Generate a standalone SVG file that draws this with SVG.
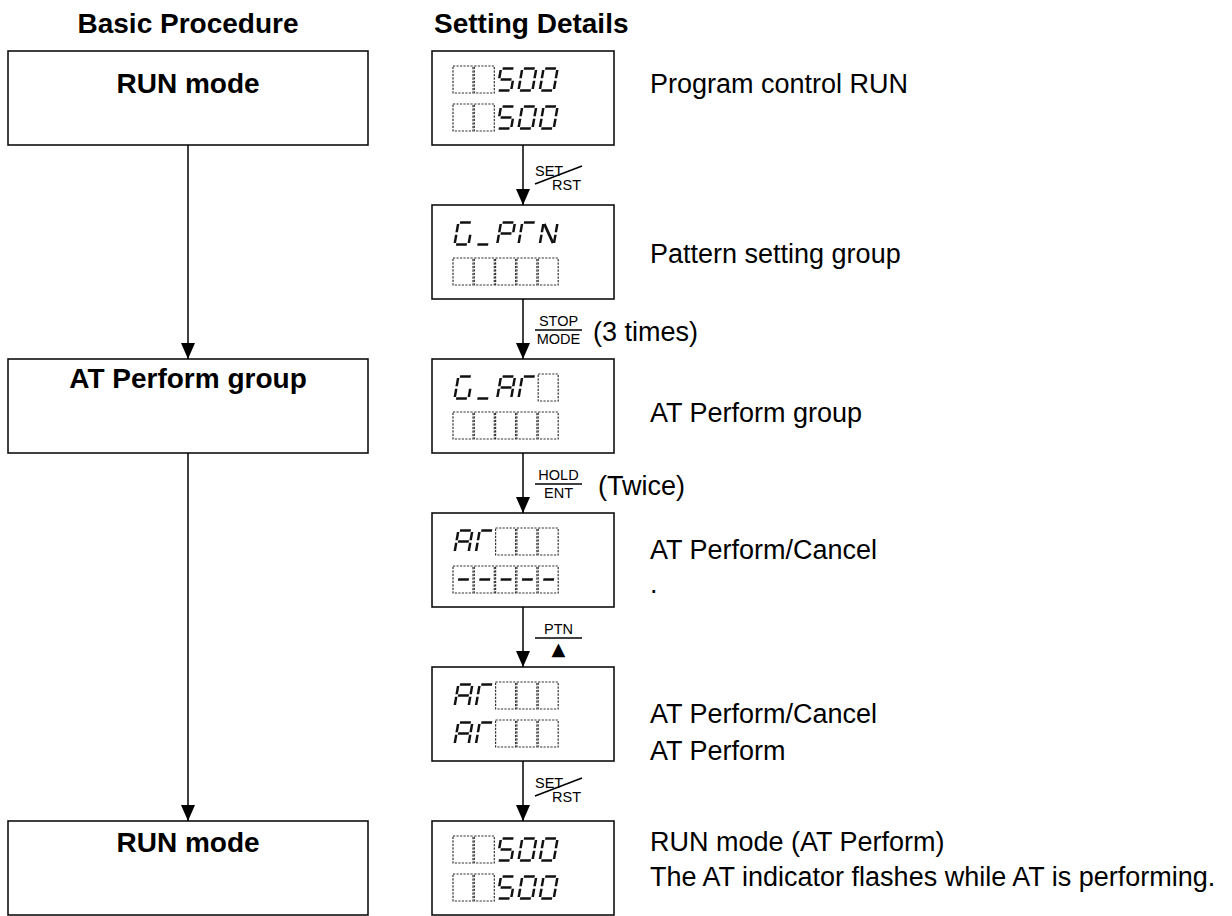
<svg xmlns="http://www.w3.org/2000/svg" xmlns:xlink="http://www.w3.org/1999/xlink" width="1232" height="916" viewBox="0 0 1232 916">
<style>
.box{fill:#fff;stroke:#000;stroke-width:1.5}
.hd{font-family:"Liberation Sans",Arial,sans-serif;font-weight:bold;font-size:28px;fill:#000}
.tx{font-family:"Liberation Sans",Arial,sans-serif;font-size:27px;fill:#000}
.key{font-family:"Liberation Sans",Arial,sans-serif;font-size:14.5px;fill:#000}
.conn{stroke:#000;stroke-width:1.5;fill:none}
.seg{stroke:#111;stroke-width:2.5}
.cell{fill:none;stroke:#333;stroke-width:1.2;stroke-dasharray:2.2 1.3}
</style>
<defs>
<marker id="ah" viewBox="0 0 16 14" refX="16" refY="7" markerWidth="16" markerHeight="14" markerUnits="userSpaceOnUse" orient="auto"><path d="M0,0 L16,7 L0,14 z" fill="#000"/></marker>
<rect id="cell" class="cell" x="0" y="0" width="20" height="27"/>
<line id="sa" class="seg" x1="1.6" y1="0" x2="12.4" y2="0"/>
<line id="sb" class="seg" x1="14" y1="1.6" x2="14" y2="9.8"/>
<line id="sc" class="seg" x1="14" y1="12.2" x2="14" y2="20.4"/>
<line id="sd" class="seg" x1="1.6" y1="22" x2="12.4" y2="22"/>
<line id="se" class="seg" x1="0" y1="12.2" x2="0" y2="20.4"/>
<line id="sf" class="seg" x1="0" y1="1.6" x2="0" y2="9.8"/>
<line id="sg" class="seg" x1="1.6" y1="11" x2="12.4" y2="11"/>
<g id="d5" transform="skewX(-10)"><use href="#sa"/><use href="#sf"/><use href="#sg"/><use href="#sc"/><use href="#sd"/></g>
<g id="d0" transform="skewX(-10)"><use href="#sa"/><use href="#sb"/><use href="#sc"/><use href="#sd"/><use href="#se"/><use href="#sf"/></g>
<g id="dG" transform="skewX(-10)"><use href="#sa"/><use href="#sf"/><use href="#se"/><use href="#sd"/><use href="#sc"/></g>
<g id="dU" transform="skewX(-10)"><use href="#sd"/></g>
<g id="dP" transform="skewX(-10)"><use href="#sa"/><use href="#sb"/><use href="#sf"/><use href="#sg"/><use href="#se"/></g>
<g id="dT" transform="skewX(-10)"><use href="#sa"/><use href="#sf"/><use href="#se"/></g>
<g id="dN" transform="skewX(-10)"><use href="#sf"/><use href="#se"/><use href="#sb"/><use href="#sc"/><line class="seg" x1="1" y1="1.5" x2="13" y2="20.5"/></g>
<g id="dA" transform="skewX(-10)"><use href="#sa"/><use href="#sb"/><use href="#sc"/><use href="#se"/><use href="#sf"/><use href="#sg"/></g>
<g id="dM" transform="skewX(-10)"><use href="#sg"/></g>
</defs>
<rect width="1232" height="916" fill="#fff"/>

<text class="hd" x="188" y="33" text-anchor="middle">Basic Procedure</text>
<text class="hd" x="434" y="33">Setting Details</text>

<g id="connectors">
<line class="conn" x1="188" y1="145" x2="188" y2="359" marker-end="url(#ah)"/>
<line class="conn" x1="188" y1="453" x2="188" y2="821" marker-end="url(#ah)"/>
<line class="conn" x1="523" y1="145" x2="523" y2="205" marker-end="url(#ah)"/>
<line class="conn" x1="523" y1="299" x2="523" y2="359" marker-end="url(#ah)"/>
<line class="conn" x1="523" y1="453" x2="523" y2="513" marker-end="url(#ah)"/>
<line class="conn" x1="523" y1="607" x2="523" y2="667" marker-end="url(#ah)"/>
<line class="conn" x1="523" y1="761" x2="523" y2="821" marker-end="url(#ah)"/>
<g id="key1">
<text class="key" x="535" y="176">SET</text>
<text class="key" x="552" y="190">RST</text>
<line class="conn" x1="535" y1="184" x2="582" y2="166" stroke-width="1.2"/>
</g>
<g id="key2">
<text class="key" x="558.5" y="326" text-anchor="middle">STOP</text>
<line class="conn" x1="535" y1="330" x2="582" y2="330" stroke-width="1.2"/>
<text class="key" x="558.5" y="344" text-anchor="middle">MODE</text>
<text class="tx" x="593" y="341">(3 times)</text>
</g>
<g id="key3">
<text class="key" x="558.5" y="480" text-anchor="middle">HOLD</text>
<line class="conn" x1="535" y1="484" x2="582" y2="484" stroke-width="1.2"/>
<text class="key" x="558.5" y="498" text-anchor="middle">ENT</text>
<text class="tx" x="598" y="495">(Twice)</text>
</g>
<g id="key4">
<text class="key" x="558.5" y="634" text-anchor="middle">PTN</text>
<line class="conn" x1="535" y1="638" x2="582" y2="638" stroke-width="1.2"/>
<text x="558.5" y="655" text-anchor="middle" font-family="DejaVu Sans, sans-serif" font-size="18">▲</text>
</g>
<g id="key5">
<text class="key" x="535" y="788">SET</text>
<text class="key" x="552" y="802">RST</text>
<line class="conn" x1="535" y1="796" x2="582" y2="778" stroke-width="1.2"/>
</g>
</g>

<g id="step-run1">
<rect class="box" x="8" y="51" width="360" height="94"/>
<text class="hd" x="188" y="93" text-anchor="middle">RUN mode</text>
</g>
<g id="step-at">
<rect class="box" x="8" y="359" width="360" height="94"/>
<text class="hd" x="188" y="388" text-anchor="middle">AT Perform group</text>
</g>
<g id="step-run2">
<rect class="box" x="8" y="821" width="360" height="94"/>
<text class="hd" x="188" y="852" text-anchor="middle">RUN mode</text>
</g>

<g id="disp1">
<rect class="box" x="432" y="51" width="182" height="94"/>
<use href="#cell" x="453" y="66"/><use href="#cell" x="474.3" y="66"/>
<use href="#d5" x="501" y="68.5"/><use href="#d0" x="522.3" y="68.5"/><use href="#d0" x="543.6" y="68.5"/>
<use href="#cell" x="453" y="104"/><use href="#cell" x="474.3" y="104"/>
<use href="#d5" x="501" y="106.5"/><use href="#d0" x="522.3" y="106.5"/><use href="#d0" x="543.6" y="106.5"/>
<text class="tx" x="650" y="93">Program control RUN</text>
</g>

<g id="disp2">
<rect class="box" x="432" y="205" width="182" height="94"/>
<use href="#dG" x="458.4" y="222.5"/><use href="#dU" x="479.7" y="222.5"/><use href="#dP" x="501" y="222.5"/><use href="#dT" x="522.3" y="222.5"/><use href="#dN" x="543.6" y="222.5"/>
<use href="#cell" x="453" y="258"/><use href="#cell" x="474.3" y="258"/><use href="#cell" x="495.6" y="258"/><use href="#cell" x="516.9" y="258"/><use href="#cell" x="538.2" y="258"/>
<text class="tx" x="650" y="263">Pattern setting group</text>
</g>

<g id="disp3">
<rect class="box" x="432" y="359" width="182" height="94"/>
<use href="#dG" x="458.4" y="376.5"/><use href="#dU" x="479.7" y="376.5"/><use href="#dA" x="501" y="376.5"/><use href="#dT" x="522.3" y="376.5"/>
<use href="#cell" x="538.2" y="374"/>
<use href="#cell" x="453" y="412"/><use href="#cell" x="474.3" y="412"/><use href="#cell" x="495.6" y="412"/><use href="#cell" x="516.9" y="412"/><use href="#cell" x="538.2" y="412"/>
<text class="tx" x="650" y="422">AT Perform group</text>
</g>

<g id="disp4">
<rect class="box" x="432" y="513" width="182" height="94"/>
<use href="#dA" x="458.4" y="530.5"/><use href="#dT" x="479.7" y="530.5"/>
<use href="#cell" x="495.6" y="528"/><use href="#cell" x="516.9" y="528"/><use href="#cell" x="538.2" y="528"/>
<use href="#cell" x="453" y="566"/><use href="#cell" x="474.3" y="566"/><use href="#cell" x="495.6" y="566"/><use href="#cell" x="516.9" y="566"/><use href="#cell" x="538.2" y="566"/>
<use href="#dM" x="458.4" y="568.5"/><use href="#dM" x="479.7" y="568.5"/><use href="#dM" x="501" y="568.5"/><use href="#dM" x="522.3" y="568.5"/><use href="#dM" x="543.6" y="568.5"/>
<text class="tx" x="650" y="559">AT Perform/Cancel</text>
<text class="tx" x="650" y="593">.</text>
</g>

<g id="disp5">
<rect class="box" x="432" y="667" width="182" height="94"/>
<use href="#dA" x="458.4" y="684.5"/><use href="#dT" x="479.7" y="684.5"/>
<use href="#cell" x="495.6" y="682"/><use href="#cell" x="516.9" y="682"/><use href="#cell" x="538.2" y="682"/>
<use href="#dA" x="458.4" y="722.5"/><use href="#dT" x="479.7" y="722.5"/>
<use href="#cell" x="495.6" y="720"/><use href="#cell" x="516.9" y="720"/><use href="#cell" x="538.2" y="720"/>
<text class="tx" x="650" y="723">AT Perform/Cancel</text>
<text class="tx" x="650" y="760">AT Perform</text>
</g>

<g id="disp6">
<rect class="box" x="432" y="821" width="182" height="94"/>
<use href="#cell" x="453" y="836"/><use href="#cell" x="474.3" y="836"/>
<use href="#d5" x="501" y="838.5"/><use href="#d0" x="522.3" y="838.5"/><use href="#d0" x="543.6" y="838.5"/>
<use href="#cell" x="453" y="874"/><use href="#cell" x="474.3" y="874"/>
<use href="#d5" x="501" y="876.5"/><use href="#d0" x="522.3" y="876.5"/><use href="#d0" x="543.6" y="876.5"/>
<text class="tx" x="650" y="851">RUN mode (AT Perform)</text>
<text class="tx" x="650" y="886">The AT indicator flashes while AT is performing.</text>
</g>
</svg>
